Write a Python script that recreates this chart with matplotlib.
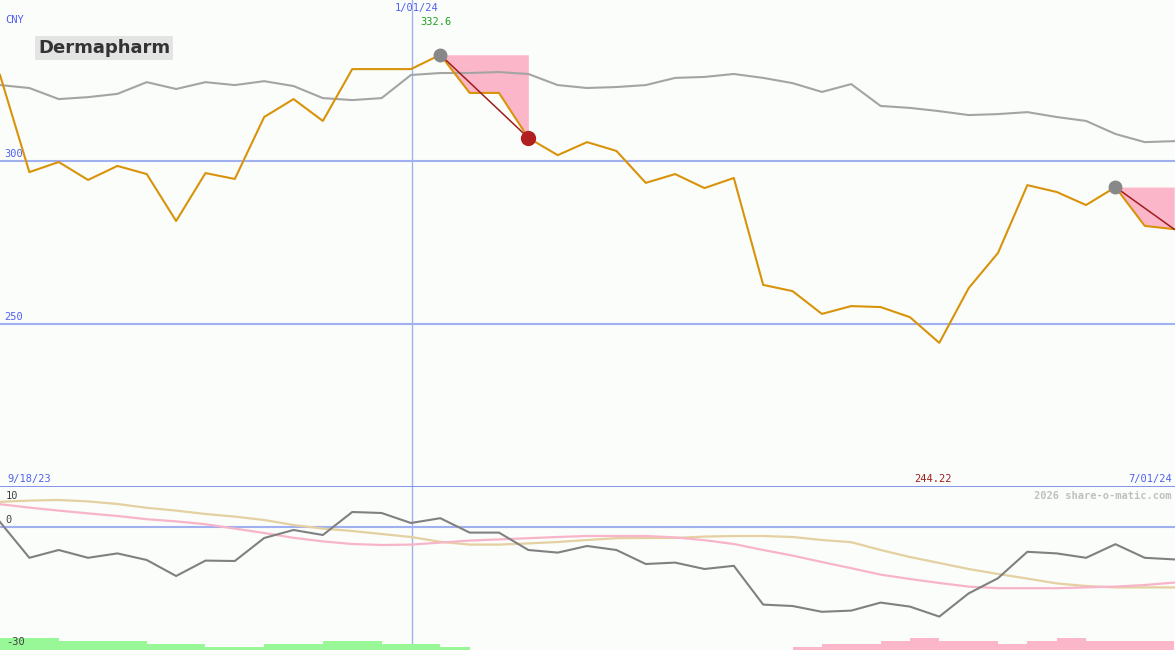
import numpy as np
import matplotlib
matplotlib.use('Agg')
import matplotlib.pyplot as plt
import matplotlib.transforms as mtransforms

# weekly closes (CNY), week index 0 .. 40
price = [326.4, 296.6, 299.7, 294.2, 298.5, 296.0, 281.6, 296.3, 294.5, 313.5,
         319.0, 312.3, 328.2, 328.2, 328.2, 332.6, 320.9, 320.9, 307.1, 301.8,
         305.8, 303.1, 293.3, 296.0, 291.7, 294.8, 262.0, 260.1, 253.1, 255.5,
         255.2, 252.1, 244.22, 261.0, 271.8, 292.6, 290.5, 286.5, 292.0, 280.1,
         279.1]
# benchmark, scaled onto the price axis
bench = [323.3, 322.4, 319.0, 319.6, 320.6, 324.2, 322.1, 324.2, 323.3, 324.5,
         323.0, 319.3, 318.7, 319.3, 326.4, 327.0, 327.0, 327.3, 326.7, 323.3,
         322.4, 322.7, 323.3, 325.5, 325.8, 326.7, 325.5, 323.9, 321.2, 323.6,
         316.9, 316.3, 315.3, 314.1, 314.4, 315.0, 313.5, 312.3, 308.3, 305.8,
         306.1]
# lower panel: relative strength and its two averages
rel = [1.25, -7.7, -5.75, -7.7, -6.6, -8.25, -12.25, -8.4, -8.5, -2.75,
       -0.75, -2.0, 3.75, 3.5, 1.0, 2.2, -1.4, -1.4, -5.75, -6.4,
       -4.75, -5.75, -9.25, -8.9, -10.5, -9.7, -19.4, -19.75, -21.2, -20.9,
       -18.9, -19.9, -22.4, -16.6, -12.8, -6.2, -6.6, -7.7, -4.3, -7.7,
       -8.1]
avg_slow = [6.3, 6.6, 6.75, 6.4, 5.75, 4.8, 4.1, 3.25, 2.6, 1.75,
            0.5, -0.4, -1.0, -1.75, -2.5, -3.7, -4.4, -4.4, -4.1, -3.75,
            -3.25, -2.8, -2.75, -2.75, -2.4, -2.25, -2.25, -2.5, -3.25, -3.8,
            -5.75, -7.5, -9.0, -10.5, -11.75, -12.9, -14.1, -14.75, -15.1, -15.1,
            -15.1]
avg_fast = [5.7, 4.85, 4.1, 3.4, 2.75, 1.95, 1.4, 0.7, -0.4, -1.5,
            -2.7, -3.6, -4.25, -4.5, -4.4, -3.9, -3.4, -3.1, -2.8, -2.5,
            -2.25, -2.25, -2.25, -2.6, -3.3, -4.25, -5.75, -7.15, -8.75, -10.3,
            -11.9, -13.0, -14.0, -14.9, -15.3, -15.3, -15.3, -15.1, -14.9, -14.5,
            -13.9]
# signal strength bars (week index, level)
green_weeks = list(range(0, 16))
green_lvl = [4, 4, 3, 3, 3, 2, 2, 1, 1, 2, 2, 3, 3, 2, 2, 1]
pink_weeks = list(range(27, 40))
pink_lvl = [1, 2, 2, 3, 4, 3, 3, 2, 3, 4, 3, 3, 3]

# drawdowns: (peak week, trough week)
drawdowns = [(15, 18), (38, 40)]

x = np.arange(len(price))
bg = '#fafdfa'
blue = '#a0b0f0'
mono = 'DejaVu Sans Mono'

fig = plt.figure(figsize=(11.75, 6.5), dpi=100, facecolor=bg)
ax = fig.add_axes([0, 163 / 650, 1, 487 / 650], facecolor=bg)
ax2 = fig.add_axes([0, 0, 1, 163 / 650], facecolor=bg)

for a in (ax, ax2):
    a.set_xlim(0, 40.03)
    a.set_xticks([])
    a.set_yticks([])
    for s in a.spines.values():
        s.set_visible(False)

ax.set_ylim(200, 349.4)
ax2.set_ylim(-30.75, 10)

# grid
for lvl in (300, 250):
    ax.axhline(lvl, color=blue, lw=1.5, zorder=1)
ax.axhline(200, color='#7888e8', lw=2, zorder=5)
ax2.axhline(0, color=blue, lw=1.5, zorder=1)
ax.axvline(14.04, color=blue, lw=1, zorder=1)
ax2.axvline(14.04, color=blue, lw=1, zorder=1)

# drawdown shading
for p, t in drawdowns:
    xs = x[p:t + 1]
    ys = np.array(price[p:t + 1])
    ax.fill_between(xs, ys, price[p], color='#fbb6c9', lw=0, zorder=2)

ax.plot(x, bench, color='#a4a4a4', lw=1.5, zorder=3)
ax.plot(x, price, color='#d8930a', lw=1.5, zorder=4)

for p, t in drawdowns:
    ax.plot([p, t], [price[p], price[t]], color='#a01c1c', lw=1.1, zorder=5)
    ax.plot(p, price[p], 'o', ms=9, color='#888888', zorder=6)
ax.plot(18, price[18], 'o', ms=10, color='#b02020', zorder=6)

# lower panel
ax2.bar(green_weeks, [l * 0.75 for l in green_lvl], width=1.0, align='edge',
        bottom=-30.75, color='#98f898', lw=0, zorder=1)
ax2.bar(pink_weeks, [l * 0.75 for l in pink_lvl], width=1.0, align='edge',
        bottom=-30.75, color='#fbb6c9', lw=0, zorder=1)
ax2.plot(x, avg_slow, color='#e4d0a0', lw=1.6, zorder=2)
ax2.plot(x, avg_fast, color='#f8b4c8', lw=1.6, zorder=2)
ax2.plot(x, rel, color='#808080', lw=1.5, zorder=3)

# labels
tr = mtransforms.blended_transform_factory(ax.transAxes, ax.transData)
for lvl in (300, 250):
    ax.text(0.004, lvl + 0.6, str(lvl), transform=tr, fontsize=7.5, family=mono,
            color='#5060f0', va='bottom', ha='left')
tr2 = mtransforms.blended_transform_factory(ax2.transAxes, ax2.transData)
ax2.text(0.005, 0.6, '0', transform=tr2, fontsize=7.5, family=mono,
         color='#404040', va='bottom')


def px(xp, yp, s, **kw):
    fig.text(xp / 1175, 1 - yp / 650, s, family=mono, fontsize=7.5, **kw)


px(5, 25, 'CNY', color='#5060f0', va='bottom')
px(395, 13, '1/01/24', color='#5060f0', va='bottom')
px(420, 27, '332.6', color='#20a020', va='bottom')
px(7, 484, '9/18/23', color='#5060f0', va='bottom')
px(914, 484, '244.22', color='#a01c1c', va='bottom')
px(1172, 484, '7/01/24', color='#5060f0', va='bottom', ha='right')
px(1172, 501, '2026 share-o-matic.com', color='#c0c0c0', va='bottom',
   ha='right', fontweight='bold')
px(6, 501, '10', color='#404040', va='bottom')
px(6, 647, '-30', color='#404040', va='bottom')

fig.text(38 / 1175, 1 - 48 / 650, 'Dermapharm', fontsize=13, fontweight='bold',
         color='#333333', va='center', ha='left', family='DejaVu Sans',
         bbox=dict(boxstyle='square,pad=0.15', fc='#e4e4e4', ec='none'))

fig.savefig('out.png', dpi=100, facecolor=bg)
